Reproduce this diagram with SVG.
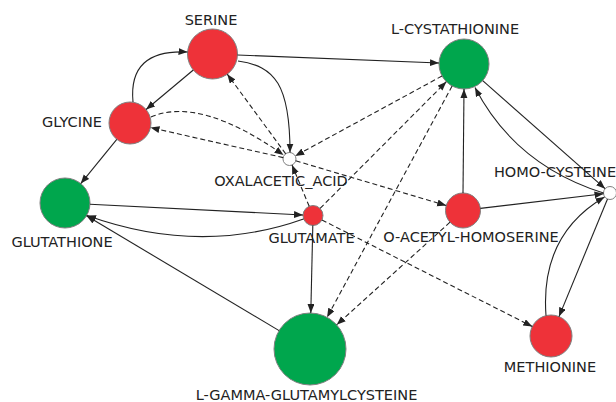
<svg xmlns="http://www.w3.org/2000/svg" width="616" height="402" viewBox="0 0 616 402">
<style>
.bg{fill:#ffffff}
.red{fill:#EE3239;stroke:#808080;stroke-width:1}
.green{fill:#00A64D;stroke:#808080;stroke-width:1}
.white{fill:#ffffff;stroke:#808080;stroke-width:1}
.lbl{font-family:"DejaVu Sans","Liberation Sans",sans-serif;font-size:14.5px;fill:#222222;text-anchor:middle}
.e{fill:none;stroke:#222222;stroke-width:1.1;marker-end:url(#ah)}
.d{stroke-dasharray:5,3}
</style>
<defs>
<marker id="ah" markerUnits="userSpaceOnUse" markerWidth="10" markerHeight="8" refX="9" refY="3.5" orient="auto">
<path d="M0,0 L9,3.5 L0,7 Z" fill="#222222" stroke="none"/>
</marker>
</defs>
<rect class="bg" x="0" y="0" width="616" height="402"/>

<g id="serine"><circle class="red" cx="212.5" cy="54" r="25"/><text class="lbl" x="211" y="25">SERINE</text></g>
<g id="l-cystathionine"><circle class="green" cx="464" cy="64" r="25"/><text class="lbl" x="455" y="34">L-CYSTATHIONINE</text></g>
<g id="glycine"><circle class="red" cx="130" cy="123" r="21"/><text class="lbl" x="72" y="127">GLYCINE</text></g>
<g id="oxalacetic_acid"><circle class="white" cx="289.5" cy="159" r="6.5"/><text class="lbl" x="281" y="186">OXALACETIC_ACID</text></g>
<g id="glutathione"><circle class="green" cx="65" cy="203" r="25"/><text class="lbl" x="62" y="247">GLUTATHIONE</text></g>
<g id="glutamate"><circle class="red" cx="313" cy="215.5" r="10"/><text class="lbl" x="311.5" y="243">GLUTAMATE</text></g>
<g id="o-acetyl-homoserine"><circle class="red" cx="463" cy="210.5" r="17.5"/><text class="lbl" x="471" y="242">O-ACETYL-HOMOSERINE</text></g>
<g id="homo-cysteine"><circle class="white" cx="610" cy="193" r="6.5"/><text class="lbl" x="555" y="177">HOMO-CYSTEINE</text></g>
<g id="methionine"><circle class="red" cx="551" cy="336" r="21"/><text class="lbl" x="550" y="372">METHIONINE</text></g>
<g id="l-gamma-glutamylcysteine"><circle class="green" cx="310" cy="349" r="36"/><text class="lbl" x="306.5" y="400">L-GAMMA-GLUTAMYLCYSTEINE</text></g>

<g id="connectors">
<path class="e" d="M237.5,55 L439,63"/>
<path class="e" d="M193.3,70 L146.1,109.5"/>
<path class="e" d="M133,102 Q128,49 187.5,52"/>
<path class="e" d="M238,61 C275,66 290,85 290,152.5"/>
<path class="e" d="M116.8,139.3 L80.75,183.6"/>
<path class="e" d="M90,204.3 L303,215"/>
<path class="e" d="M303.5,219 Q200,256 87,215.5"/>
<path class="e" d="M279.1,330.6 L86.5,215.8"/>
<path class="e" d="M312.8,225.5 L310.8,313"/>
<path class="e" d="M463,193 L464,89"/>
<path class="e" d="M482.7,80.6 L605.1,188.7"/>
<path class="e" d="M603.5,193 Q515,165 475,87.5"/>
<path class="e" d="M480.4,208.4 L603.5,193.8"/>
<path class="e" d="M607.5,199 L559,316.6"/>
<path class="e" d="M546,315.5 Q540,235 604.5,197"/>
<path class="e d" d="M285.7,153.8 L227.3,74.2"/>
<path class="e d" d="M151,117 Q200,96 283.5,155"/>
<path class="e d" d="M283.2,157.6 L150.5,127.6"/>
<path class="e d" d="M442,76 L295.2,155.9"/>
<path class="e d" d="M309.2,206.3 L292,165"/>
<path class="e d" d="M295.7,160.8 L446.2,205.5"/>
<path class="e d" d="M320.1,208.4 L446.35,81.7"/>
<path class="e d" d="M452.1,86 L327.1,317.3"/>
<path class="e d" d="M450,222.2 L336.7,324.8"/>
<path class="e d" d="M321.9,220 L532.3,326.5"/>
</g>
</svg>
